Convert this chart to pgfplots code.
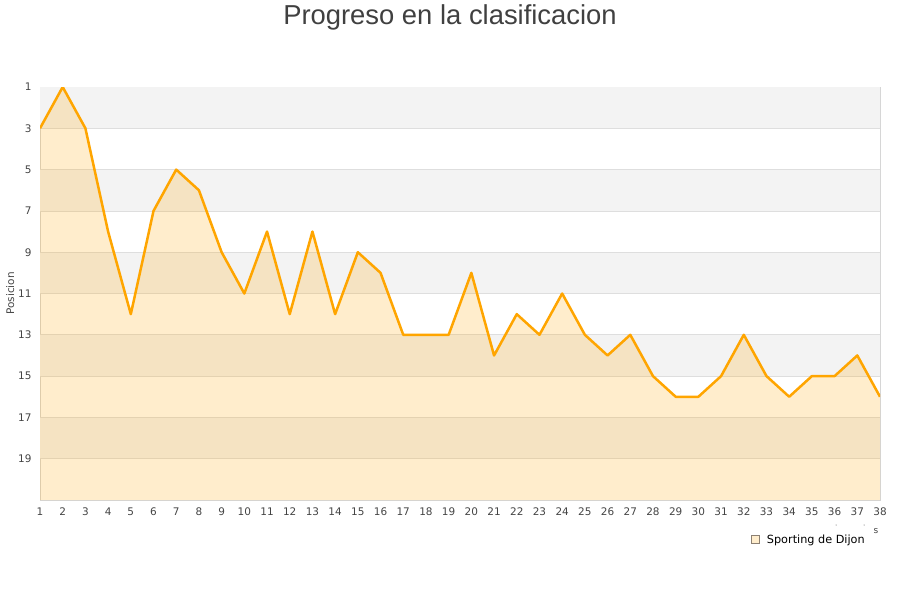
\documentclass[border=0pt]{standalone}
\usepackage{fontspec}
\setmainfont{DejaVu Sans}
\newfontfamily\titlefont{Liberation Sans}
\usepackage{pgfplots}
\pgfplotsset{compat=1.18}

\definecolor{lineorange}{HTML}{FFA500}
\definecolor{bandgray}{HTML}{F3F3F3}
\definecolor{gridgray}{HTML}{DEDEDE}
\definecolor{framegray}{HTML}{D6D6D6}
\definecolor{ticktext}{HTML}{444444}
\definecolor{titletext}{HTML}{404040}

% jornada, posicion
\pgfplotstableread{
x y
1 3
2 1
3 3
4 8
5 12
6 7
7 5
8 6
9 9
10 11
11 8
12 12
13 8
14 12
15 9
16 10
17 13
18 13
19 13
20 10
21 14
22 12
23 13
24 11
25 13
26 14
27 13
28 15
29 16
30 16
31 15
32 13
33 15
34 16
35 15
36 15
37 14
38 16
}\posdata

\begin{document}
\begin{tikzpicture}
\path[use as bounding box] (0bp,0bp) rectangle (900bp,-600bp);
\node[font=\titlefont\fontsize{27.5}{32}\selectfont, text=titletext] at (450bp,-17bp) {Progreso en la clasificacion};
\begin{axis}[
    at={(40bp,-500bp)}, anchor=south west,
    scale only axis, width=840bp, height=413bp,
    xmin=1, xmax=38, ymin=1, ymax=21,
    y dir=reverse,
    xtick={1,...,38},
    ytick={1,3,...,19},
    major tick length=0pt,
    axis line style={framegray, line width=0.8bp},
    tick label style={font=\fontsize{10.5}{12}\selectfont, text=ticktext},
    /pgf/number format/assume math mode=true,
    yticklabel style={xshift=-5bp},
    xticklabel style={yshift=-4bp},
    ylabel={Posicion},
    ylabel style={font=\fontsize{10.5}{12}\selectfont, text=ticktext, yshift=-3bp},
    legend style={draw=none, fill=none, font=\fontsize{11.3}{13}\selectfont,
        at={(0.988,-0.074)}, anchor=north east, legend cell align=left},
    legend image code/.code={\draw[fill=lineorange, fill opacity=0.2, draw=gray!80!brown, line width=0.6bp] (0bp,-4bp) rectangle (8bp,4bp); \path (14bp,0bp);},
]
% bandas alternas del fondo
\addplot[draw=none, fill=bandgray, forget plot] coordinates {(1,1) (38,1) (38,3) (1,3)};
\addplot[draw=none, fill=bandgray, forget plot] coordinates {(1,5) (38,5) (38,7) (1,7)};
\addplot[draw=none, fill=bandgray, forget plot] coordinates {(1,9) (38,9) (38,11) (1,11)};
\addplot[draw=none, fill=bandgray, forget plot] coordinates {(1,13) (38,13) (38,15) (1,15)};
\addplot[draw=none, fill=bandgray, forget plot] coordinates {(1,17) (38,17) (38,19) (1,19)};
% rejilla horizontal
\pgfplotsinvokeforeach{3,5,...,19}{
  \addplot[gridgray, line width=0.8bp, forget plot] coordinates {(1,#1) (38,#1)};
}
% area bajo la curva
\addplot[fill=lineorange, fill opacity=0.2, draw=none] table[x=x, y=y] {\posdata}
    -- (axis cs:38,21) -- (axis cs:1,21) -- cycle;
\addlegendentry{Sporting de Dijon}
\addplot[lineorange, line width=2.5bp, line join=round, forget plot] table[x=x, y=y] {\posdata};
\end{axis}
\node[font=\fontsize{9}{10}\selectfont, text=ticktext] at (876bp,-531bp) {s};
\fill[ticktext] (836bp,-525bp) circle (0.5bp);
\fill[ticktext] (864bp,-525bp) circle (0.5bp);
\end{tikzpicture}
\end{document}
